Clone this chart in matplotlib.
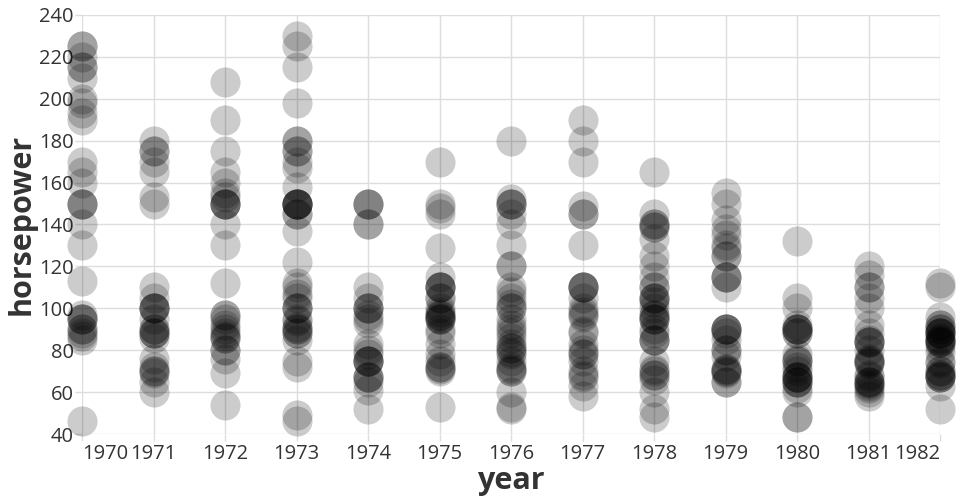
import numpy as np
import matplotlib.pyplot as plt

# horsepower by model year (auto-mpg cars)
years = list(range(1970, 1983))
hp_1970 = [130, 165, 150, 150, 140, 198, 220, 215, 225, 190, 170, 160, 150, 225, 95,
           95, 97, 85, 88, 46, 87, 90, 95, 113, 90, 215, 200, 210, 193]
hp_1971 = [88, 90, 95, 100, 105, 100, 88, 100, 165, 175, 153, 150, 180, 170, 175,
           110, 72, 100, 88, 86, 90, 70, 76, 65, 69, 60, 70]
hp_1972 = [95, 80, 54, 90, 86, 165, 175, 150, 153, 150, 208, 155, 160, 190, 97,
           150, 130, 140, 150, 112, 76, 87, 69, 86, 92, 97, 80, 88]
hp_1973 = [175, 150, 145, 137, 150, 198, 150, 158, 150, 215, 225, 175, 105, 100,
           100, 88, 95, 46, 150, 167, 170, 180, 100, 88, 72, 94, 90, 85, 107, 90,
           145, 230, 49, 75, 91, 112, 150, 110, 122, 180]
hp_1974 = [95, 100, 100, 67, 80, 65, 75, 100, 110, 105, 140, 150, 150, 140, 150,
           83, 67, 78, 52, 61, 75, 75, 75, 97, 93, 67]
hp_1975 = [95, 105, 72, 72, 170, 145, 150, 148, 110, 105, 110, 95, 110, 110, 129,
           75, 83, 100, 78, 96, 71, 97, 97, 70, 90, 95, 88, 98, 115, 53]
hp_1976 = [86, 81, 92, 79, 83, 140, 150, 120, 152, 100, 105, 81, 90, 52, 60, 70,
           53, 100, 78, 110, 95, 71, 70, 75, 72, 102, 150, 88, 108, 120, 180, 145,
           130, 150]
hp_1977 = [68, 80, 58, 96, 70, 145, 110, 145, 130, 110, 105, 100, 98, 180, 170,
           190, 149, 78, 88, 75, 89, 63, 83, 67, 78, 97, 110, 110]
hp_1978 = [48, 66, 52, 70, 60, 110, 140, 139, 105, 95, 85, 88, 100, 90, 105, 85,
           110, 120, 145, 165, 139, 140, 68, 95, 97, 75, 95, 105, 85, 97, 103, 125,
           115, 133, 71, 68]
hp_1979 = [115, 85, 88, 90, 110, 130, 129, 138, 135, 155, 142, 125, 150, 71, 65,
           80, 80, 77, 125, 71, 90, 70, 70, 65, 69, 90, 115, 115, 90]
hp_1980 = [76, 60, 70, 65, 90, 88, 90, 90, 78, 90, 75, 92, 75, 65, 105, 65, 48,
           48, 67, 67, 67, 67, 62, 132, 100, 88, 72]
hp_1981 = [84, 84, 92, 110, 84, 58, 64, 60, 67, 65, 62, 68, 63, 65, 65, 74, 75,
           75, 100, 74, 80, 76, 116, 120, 110, 105, 88, 85]
hp_1982 = [88, 88, 88, 85, 84, 90, 92, 74, 68, 68, 63, 70, 88, 75, 70, 67, 67,
           67, 110, 85, 92, 112, 96, 84, 90, 86, 52, 84, 79, 82]
hp_by_year = [hp_1970, hp_1971, hp_1972, hp_1973, hp_1974, hp_1975, hp_1976,
              hp_1977, hp_1978, hp_1979, hp_1980, hp_1981, hp_1982]

x = np.concatenate([[yr] * len(v) for yr, v in zip(years, hp_by_year)])
y = np.concatenate(hp_by_year)

plt.rcParams['font.family'] = ['Open Sans', 'DejaVu Sans']
txt = '#333333'
grid = '#dddddd'

fig = plt.figure(figsize=(9.6, 5), dpi=100)
ax = fig.add_axes([82 / 960, 66 / 500, 858 / 960, 419 / 500])

ax.scatter(x, y, s=470, color='black', alpha=0.2, linewidths=0, zorder=3, clip_on=False)

ax.set_xlim(1970, 1982)
ax.set_ylim(40, 240)
ax.set_xticks(years)
ax.set_yticks(range(40, 241, 20))
ax.set_xticklabels([str(v) for v in years])
ax.grid(True, color=grid, linewidth=1, zorder=0)
for s in ax.spines.values():
    s.set_visible(False)
ax.tick_params(axis='both', colors=grid, labelcolor=txt, labelsize=14.5, length=5, width=1)
ax.tick_params(axis='x', pad=2)
ax.tick_params(axis='y', pad=1)
labels = ax.get_xticklabels()
labels[0].set_horizontalalignment('left')
labels[-1].set_horizontalalignment('right')

ax.set_xlabel('year', fontsize=22, fontweight='bold', color=txt, labelpad=2)
ax.set_ylabel('horsepower', fontsize=22, fontweight='bold', color=txt, labelpad=2)

fig.savefig('out.png', dpi=100)
